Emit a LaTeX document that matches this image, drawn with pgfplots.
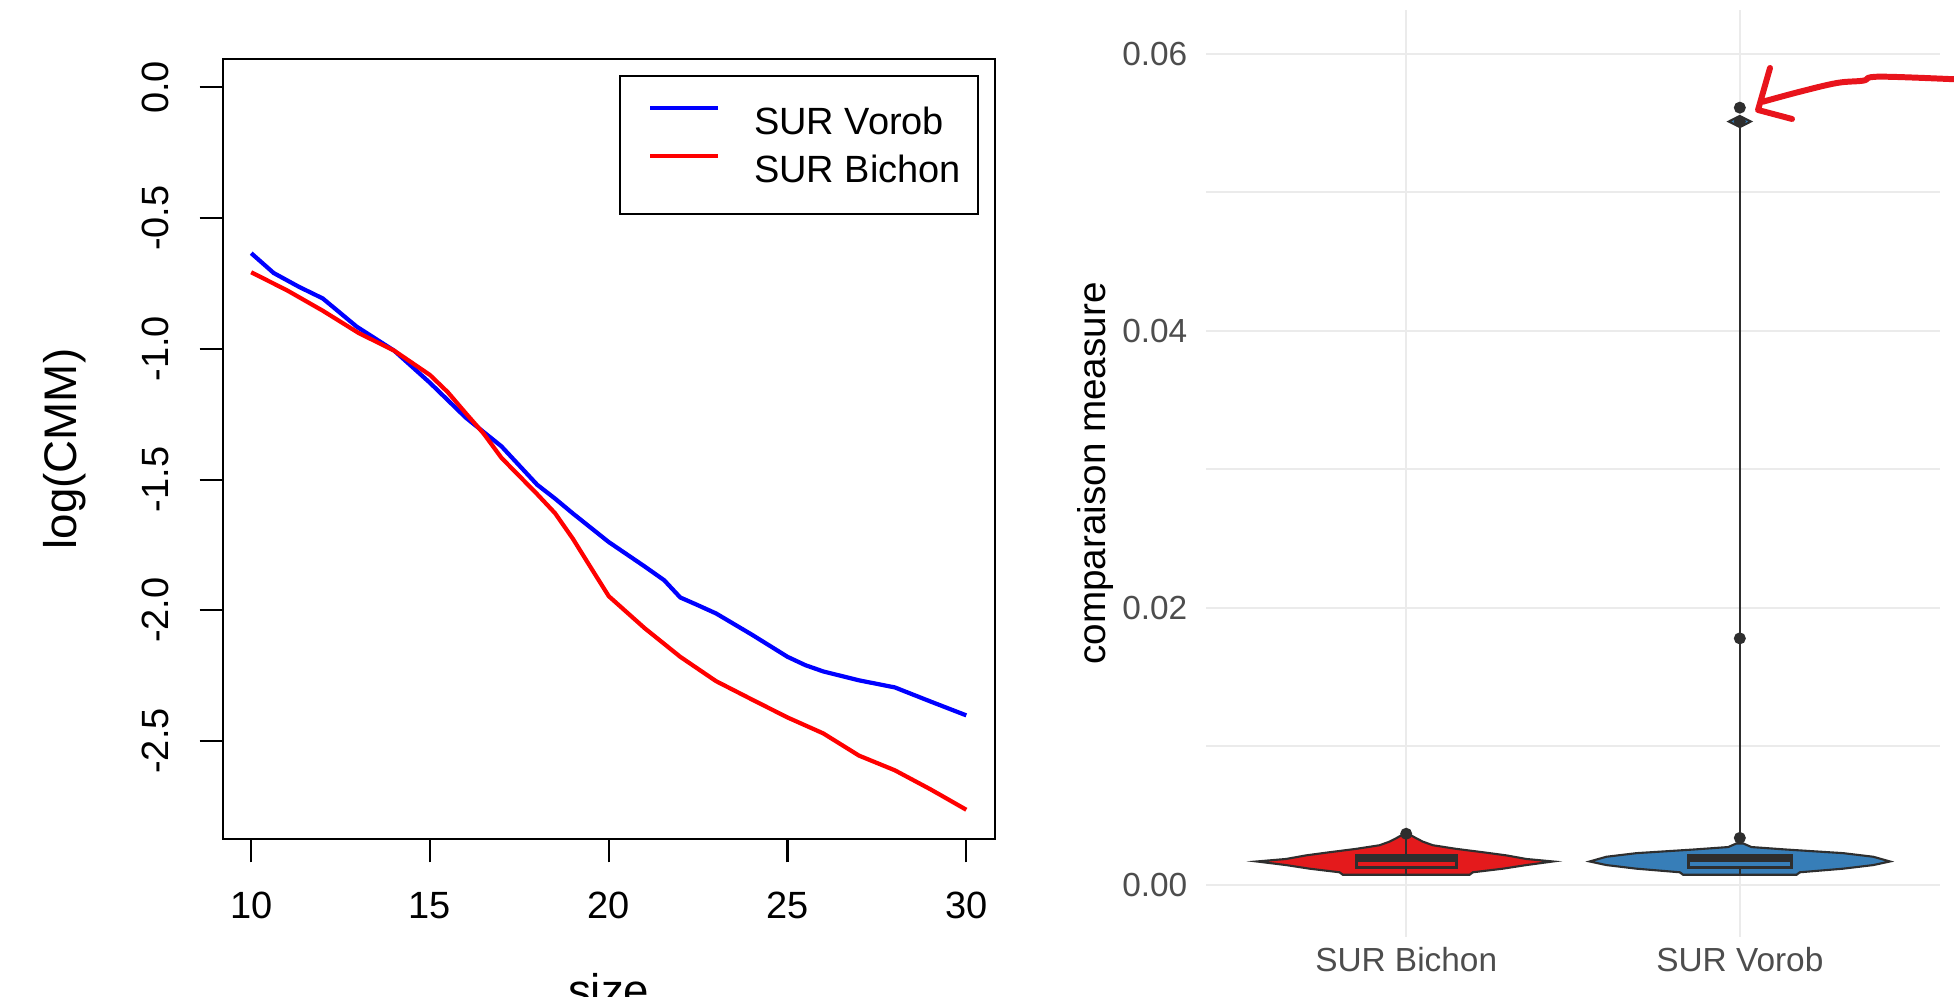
\documentclass[border=0pt]{standalone}
\usepackage{fontspec}
\setmainfont{Liberation Sans}
\usepackage{pgfplots}
\pgfplotsset{compat=1.18}

\definecolor{gridc}{HTML}{EBEBEB}
\definecolor{txtgrey}{HTML}{4D4D4D}
\definecolor{vred}{HTML}{E41A1C}
\definecolor{vblue}{HTML}{377EB8}
\definecolor{edge}{HTML}{2E2E2E}
\definecolor{pen}{HTML}{E8141C}

\begin{document}
\begin{tikzpicture}

% ---------- left panel: log(CMM) against size ----------
\begin{axis}[
  at={(22.26mm,15.77mm)}, anchor=south west,
  width=77.23mm, height=78.06mm, scale only axis,
  xmin=9.2, xmax=30.8, ymin=-2.876, ymax=0.11,
  axis line style={line width=0.6pt},
  tick align=outside, major tick length=2.3mm,
  tick style={line width=0.6pt, black},
  xtick pos=left, ytick pos=left,
  xtick={10,15,20,25,30}, xticklabels={10,15,20,25,30},
  ytick={0,-0.5,-1,-1.5,-2,-2.5},
  yticklabels={0.0,-0.5,-1.0,-1.5,-2.0,-2.5},
  ticklabel style={font=\fontsize{10.8}{13}\selectfont, inner sep=0pt},
  xticklabel style={anchor=north, yshift=-2.9mm},
  yticklabel style={xshift=-3.1mm, rotate=90, anchor=base},
  xlabel={size},
  xlabel style={at={(axis description cs:0.5,-0.2136)}, anchor=base,
    font=\fontsize{13}{15}\selectfont},
  ylabel={log(CMM)},
  ylabel style={at={(axis description cs:-0.1896,0.5)}, anchor=base,
    font=\fontsize{13}{15}\selectfont},
  legend style={at={(0.9794,0.9787)}, anchor=north east, draw=black,
    line width=0.6pt, inner xsep=1.7mm, inner ysep=2.1mm,
    column sep=3.4mm, row sep=0pt,
    nodes={inner sep=0pt, text height=3.75mm, text depth=1.05mm,
      font=\fontsize{10.8}{13}\selectfont}},
  legend cell align=left,
  legend image code/.code={\path (0,0) (7.9mm,0);
    \draw[#1] (1.1mm,1.35mm) -- (7.9mm,1.35mm);},
]
\addplot[blue, line width=1.2pt] coordinates {
  (10,-0.634) (10.63,-0.71) (11.34,-0.763) (12,-0.807) (12.95,-0.915)
  (14,-1.007) (15,-1.13) (16,-1.263) (17,-1.373) (18,-1.52) (18.5,-1.573)
  (19,-1.63) (20,-1.739) (21,-1.832) (21.55,-1.885) (22,-1.951)
  (22.45,-1.978) (23,-2.012) (24,-2.093) (25,-2.178) (25.5,-2.21)
  (26,-2.234) (27,-2.268) (28,-2.295) (29,-2.349) (30,-2.402)
};
\addlegendentry{SUR Vorob}
\addplot[red, line width=1.2pt] coordinates {
  (10,-0.707) (11,-0.776) (12,-0.854) (13,-0.939) (14,-1.007) (15,-1.10)
  (15.5,-1.166) (16,-1.246) (16.5,-1.324) (17,-1.417) (18,-1.556)
  (18.5,-1.629) (19,-1.727) (19.5,-1.837) (20,-1.946) (20.5,-2.007)
  (21,-2.068) (22,-2.178) (23,-2.271) (24,-2.341) (25,-2.41) (26,-2.471)
  (27,-2.556) (28,-2.612) (29,-2.685) (30,-2.763)
};
\addlegendentry{SUR Bichon}
\end{axis}

% ---------- right panel: violins of the comparison measure ----------
\begin{axis}[
  at={(120.6mm,6.0mm)}, anchor=south west,
  width=73.4mm, height=92.7mm, scale only axis,
  xmin=0.4, xmax=2.6, ymin=-0.00375, ymax=0.06315,
  axis line style={draw=none},
  major tick length=0pt, minor tick length=0pt,
  xtick={1,2}, xticklabels={SUR Bichon,SUR Vorob},
  ytick={0,0.02,0.04,0.06}, yticklabels={0.00,0.02,0.04,0.06},
  minor ytick={0.01,0.03,0.05},
  grid=both,
  major grid style={gridc, line width=0.55pt},
  minor grid style={gridc, line width=0.55pt},
  scaled y ticks=false,
  ticklabel style={font=\fontsize{9.5}{11}\selectfont, text=txtgrey, inner sep=0pt},
  xticklabel style={anchor=base, yshift=-3.5mm},
  yticklabel style={anchor=east, xshift=-1.8mm},
  ylabel={comparaison measure},
  ylabel style={at={(axis description cs:-0.1376,0.5)}, anchor=base,
    font=\fontsize{11}{13}\selectfont},
  clip=false,
]
% SUR Bichon violin
\addplot[fill=vred, draw=edge, line width=0.6pt] coordinates {
  (1.000,0.00378) (1.029,0.00339) (1.05,0.00313) (1.08,0.00287)
  (1.15,0.00261) (1.235,0.00235) (1.30,0.00214) (1.36,0.00188)
  (1.44,0.00170) (1.36,0.00144) (1.29,0.00118) (1.20,0.00092)
  (1.19,0.00074) (0.81,0.00074) (0.80,0.00092) (0.71,0.00118)
  (0.64,0.00144) (0.552,0.00170) (0.64,0.00188) (0.70,0.00214)
  (0.765,0.00235) (0.85,0.00261) (0.92,0.00287) (0.95,0.00313)
  (0.971,0.00339)
} -- cycle;
% SUR Vorob violin body
\addplot[fill=vblue, draw=edge, line width=0.6pt] coordinates {
  (2.01,0.0030) (2.035,0.00274) (2.14,0.00256) (2.31,0.0023)
  (2.40,0.00204) (2.45,0.0017) (2.40,0.00144) (2.31,0.00118)
  (2.18,0.00092) (2.17,0.00074) (1.83,0.00074) (1.82,0.00092)
  (1.69,0.00118) (1.60,0.00144) (1.55,0.0017) (1.60,0.00204)
  (1.69,0.0023) (1.86,0.00256) (1.965,0.00274) (1.99,0.0030)
} -- cycle;
% SUR Vorob thin upper tail and its small bulge
\addplot[edge, line width=0.7pt] coordinates {(2,0.0030) (2,0.0547)};
\addplot[fill=vblue, draw=edge, line width=0.6pt] coordinates {
  (2,0.0555) (2.033,0.0551) (2,0.0547) (1.967,0.0551)
} -- cycle;
% boxes
\addplot[edge, line width=0.6pt] coordinates {(1,0.00214) (1,0.0036)};
\addplot[edge, line width=0.6pt] coordinates {(1,0.00126) (1,0.00074)};
\addplot[edge, line width=0.6pt] coordinates {(2,0.00126) (2,0.00074)};
\addplot[draw=edge, line width=0.8pt] coordinates {
  (0.85,0.00126) (1.15,0.00126) (1.15,0.00214) (0.85,0.00214)} -- cycle;
\addplot[draw=edge, line width=0.8pt] coordinates {
  (1.845,0.00126) (2.155,0.00126) (2.155,0.00214) (1.845,0.00214)} -- cycle;
\addplot[edge, line width=1.6pt] coordinates {(0.85,0.0019) (1.15,0.0019)};
\addplot[edge, line width=1.6pt] coordinates {(1.845,0.0019) (2.155,0.0019)};
% outliers
\addplot[only marks, mark=*, mark size=1.5pt, edge] coordinates {
  (1,0.0037) (2,0.0034) (2,0.0178) (2,0.0551) (2,0.0561)
};
\end{axis}

% hand-drawn red arrow
\draw[pen, line width=1.7pt, line cap=round, line join=round]
  plot[smooth, tension=0.6] coordinates {(197mm,91.7mm) (188.0mm,92.03mm)
  (186.3mm,91.63mm) (183.7mm,91.4mm) (180.0mm,90.53mm) (176.3mm,89.53mm)};
\draw[pen, line width=1.7pt, line cap=round, line join=round]
  (177.0mm,92.9mm) -- (175.8mm,88.7mm) -- (179.2mm,87.8mm);

\pgfresetboundingbox
\useasboundingbox (0,0) rectangle (195.4mm,99.7mm);
\end{tikzpicture}
\end{document}
